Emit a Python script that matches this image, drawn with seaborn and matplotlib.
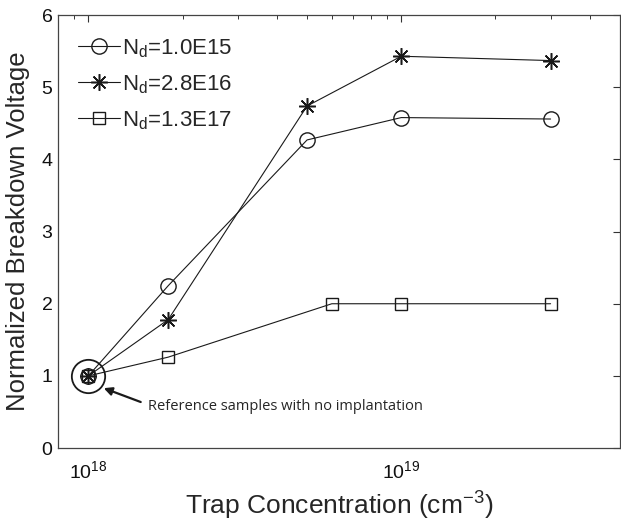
import numpy as np
import pandas as pd
import matplotlib
matplotlib.use("Agg")
import matplotlib.pyplot as plt
from matplotlib.ticker import LogLocator, NullFormatter
import seaborn as sns

# ---- data ----
x_circle = [1e18, 1.8e18, 5e18, 1e19, 3e19]
y_circle = [1.0, 2.25, 4.27, 4.58, 4.56]
x_star = [1e18, 1.8e18, 5e18, 1e19, 3e19]
y_star = [1.0, 1.78, 4.74, 5.43, 5.37]
x_square = [1e18, 1.8e18, 6e18, 1e19, 3e19]
y_square = [1.0, 1.26, 2.0, 2.0, 2.0]
labels = [r"N$_\mathregular{d}$=1.0E15", r"N$_\mathregular{d}$=2.8E16", r"N$_\mathregular{d}$=1.3E17"]
ref_x = [1e18]
ref_y = [1.0]
annot_text = "Reference samples with no implantation"

sns.set_theme(style="white")
plt.rcParams["font.family"] = ["Liberation Sans", "DejaVu Sans"]
plt.rcParams["mathtext.fontset"] = "custom"
plt.rcParams["mathtext.rm"] = "Liberation Sans"
plt.rcParams["mathtext.it"] = "Liberation Sans"

fig = plt.figure(figsize=(6.21, 5.21), dpi=100)
ax = fig.add_axes([0.0934, 0.140, 0.905, 0.831])

common = dict(color="k", linewidth=0.8, markeredgecolor="k", markerfacecolor="none", ax=ax)
df1 = pd.DataFrame({"x": x_circle, "y": y_circle})
df2 = pd.DataFrame({"x": x_star, "y": y_star})
df3 = pd.DataFrame({"x": x_square, "y": y_square})
sns.lineplot(data=df1, x="x", y="y", marker="o", markersize=11, markeredgewidth=1.0, label=labels[0], **common)
sns.lineplot(data=df2, x="x", y="y", marker=(8, 2, 0), markersize=12, markeredgewidth=1.1, label=labels[1], **common)
sns.lineplot(data=df3, x="x", y="y", marker="s", markersize=8.5, markeredgewidth=1.0, label=labels[2], **common)

# reference circle
ax.plot(ref_x, ref_y, linestyle="none", marker="o", markersize=24, markerfacecolor="none",
        markeredgecolor="k", markeredgewidth=1.3)

ax.set_xscale("log")
ax.set_xlim(8e17, 5e19)
ax.set_ylim(0, 6)
ax.set_yticks([0, 1, 2, 3, 4, 5, 6])
ax.xaxis.set_major_locator(LogLocator(base=10, numticks=10))
ax.xaxis.set_minor_locator(LogLocator(base=10, subs=np.arange(2, 10), numticks=20))
ax.xaxis.set_minor_formatter(NullFormatter())

ax.tick_params(which="both", direction="in", top=True, right=True, colors="#333333",
               labelcolor="#111111")
ax.tick_params(which="major", length=5, width=0.8, labelsize=14, pad=4)
ax.tick_params(which="minor", length=3, width=0.7)
ax.tick_params(axis="x", which="major", pad=9)
for s in ax.spines.values():
    s.set_color("#444444")
    s.set_linewidth(0.9)

ax.set_xlabel(r"Trap Concentration (cm$^{\mathregular{-3}}$)", fontsize=19, labelpad=5)
ax.set_ylabel("Normalized Breakdown Voltage", fontsize=18.5, labelpad=8)

ax.annotate(annot_text, xy=(1.12e18, 0.83), xytext=(1.55e18, 0.58),
            fontsize=10.5, ha="left", va="center", family=["Open Sans", "DejaVu Sans"],
            arrowprops=dict(arrowstyle="-|>", color="k", lw=1.6, shrinkA=3, shrinkB=0,
                            mutation_scale=12, relpos=(0.0, 0.6)))

leg = ax.legend(loc="upper left", frameon=False, fontsize=16, handlelength=1.9,
                handletextpad=0.1, labelspacing=0.6, borderaxespad=0.5,
                bbox_to_anchor=(0.0, 0.995))

fig.savefig("out.png", dpi=100)
